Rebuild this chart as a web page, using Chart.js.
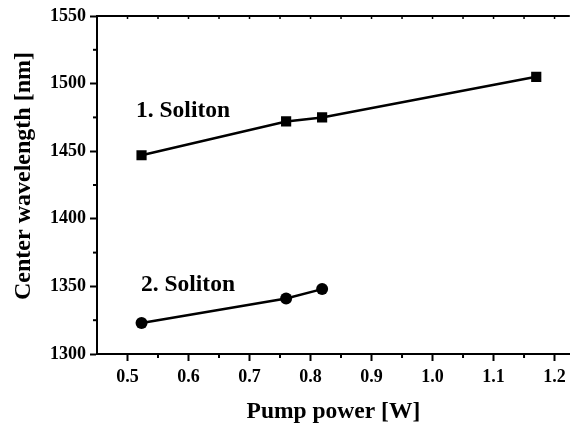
<!DOCTYPE html>
<html><head><meta charset="utf-8">
<script src="https://cdn.jsdelivr.net/npm/chart.js@4/dist/chart.umd.min.js"></script>
<style>html,body{margin:0;padding:0;background:#fff}#wrap{width:577px;height:423px}</style>
</head><body><div id="wrap"><canvas id="c" width="577" height="423"></canvas></div>
<script>
const soliton1Power = [0.523, 0.760, 0.819, 1.170];
const soliton1Wavelength = [1447, 1472, 1475, 1505];
const soliton2Power = [0.523, 0.760, 0.819];
const soliton2Wavelength = [1323, 1341, 1348];
const xTickValues = [0.5, 0.6, 0.7, 0.8, 0.9, 1.0, 1.1, 1.2];
const xMinorValues = [0.45, 0.55, 0.65, 0.75, 0.85, 0.95, 1.05, 1.15];
const yTickValues = [1300, 1350, 1400, 1450, 1500, 1550];
const yMinorValues = [1325, 1375, 1425, 1475, 1525];
const annotations = [
  {text: '1. Soliton', x: 0.514, y: 1480},
  {text: '2. Soliton', x: 0.522, y: 1351}
];
const yTitle = 'Center wavelength [nm]';
const xTitle = 'Pump power [W]';
const FONT = '"Liberation Serif", "Times New Roman", serif';

const extras = {
  id: 'extras',
  afterDraw(chart) {
    const ctx = chart.ctx, a = chart.chartArea;
    const xs = chart.scales.x, ys = chart.scales.y;
    ctx.save();
    ctx.strokeStyle = '#000';
    ctx.lineWidth = 2;
    ctx.beginPath();
    ctx.moveTo(a.left - 1, a.top);
    ctx.lineTo(a.right, a.top);
    ctx.stroke();
    ctx.lineWidth = 1.5;
    [...xTickValues, ...xMinorValues].forEach(v => {
      const px = xs.getPixelForValue(v);
      ctx.beginPath(); ctx.moveTo(px, a.top); ctx.lineTo(px, a.top + 3); ctx.stroke();
    });
    ctx.lineWidth = 2;
    xMinorValues.forEach(v => {
      const px = xs.getPixelForValue(v);
      if (px < a.left + 1) return;
      ctx.beginPath(); ctx.moveTo(px, a.bottom); ctx.lineTo(px, a.bottom + 4); ctx.stroke();
    });
    yMinorValues.forEach(v => {
      const py = ys.getPixelForValue(v);
      ctx.beginPath(); ctx.moveTo(a.left, py); ctx.lineTo(a.left - 4, py); ctx.stroke();
    });
    ctx.fillStyle = '#000';
    ctx.font = 'bold 23.5px ' + FONT;
    ctx.textBaseline = 'middle';
    ctx.textAlign = 'left';
    annotations.forEach(t => {
      ctx.fillText(t.text, xs.getPixelForValue(t.x), ys.getPixelForValue(t.y));
    });
    // y axis title
    ctx.font = 'bold 24px ' + FONT;
    ctx.textAlign = 'center';
    ctx.translate(24, 176);
    ctx.rotate(-Math.PI / 2);
    ctx.fillText(yTitle, 0, 0);
    ctx.restore();
  }
};

new Chart(document.getElementById('c'), {
  type: 'scatter',
  data: {
    datasets: [
      {
        label: '1. Soliton',
        data: soliton1Power.map((x, i) => ({x, y: soliton1Wavelength[i]})),
        showLine: true, borderColor: '#000', borderWidth: 2.5,
        pointStyle: 'rect', pointRadius: 7.2, pointBackgroundColor: '#000', pointBorderColor: '#000', pointBorderWidth: 0
      },
      {
        label: '2. Soliton',
        data: soliton2Power.map((x, i) => ({x, y: soliton2Wavelength[i]})),
        showLine: true, borderColor: '#000', borderWidth: 2.5,
        pointStyle: 'circle', pointRadius: 6, pointBackgroundColor: '#000', pointBorderColor: '#000', pointBorderWidth: 0
      }
    ]
  },
  options: {
    responsive: false, animation: false, devicePixelRatio: 1,
    layout: {padding: {top: 16, right: 0, left: 0, bottom: 0}},
    plugins: {legend: {display: false}, tooltip: {enabled: false}},
    scales: {
      x: {
        type: 'linear', min: 0.45, max: 1.225,
        afterBuildTicks: s => { s.ticks = xTickValues.map(v => ({value: v})); },
        afterFit: s => { s.height = 69; },
        grid: {display: true, drawOnChartArea: false, drawTicks: true, tickLength: 7, tickColor: '#000', tickWidth: 2},
        border: {display: true, color: '#000', width: 2},
        ticks: {color: '#000', padding: 6, maxRotation: 0, autoSkip: false, font: {family: FONT, size: 18, weight: 'bold'}, callback: v => Number(v).toFixed(1)},
        title: {display: true, text: xTitle, color: '#000', padding: {top: 0, bottom: -3}, font: {family: FONT, size: 23.5, weight: 'bold'}}
      },
      y: {
        type: 'linear', min: 1300, max: 1550,
        afterBuildTicks: s => { s.ticks = yTickValues.map(v => ({value: v})); },
        afterFit: s => { s.width = 97; },
        grid: {display: true, drawOnChartArea: false, drawTicks: true, tickLength: 7, tickColor: '#000', tickWidth: 2},
        border: {display: true, color: '#000', width: 2},
        ticks: {color: '#000', padding: 4, autoSkip: false, font: {family: FONT, size: 18, weight: 'bold'}, callback: v => String(v)},
        title: {display: false}
      }
    }
  },
  plugins: [extras]
});
</script></body></html>
